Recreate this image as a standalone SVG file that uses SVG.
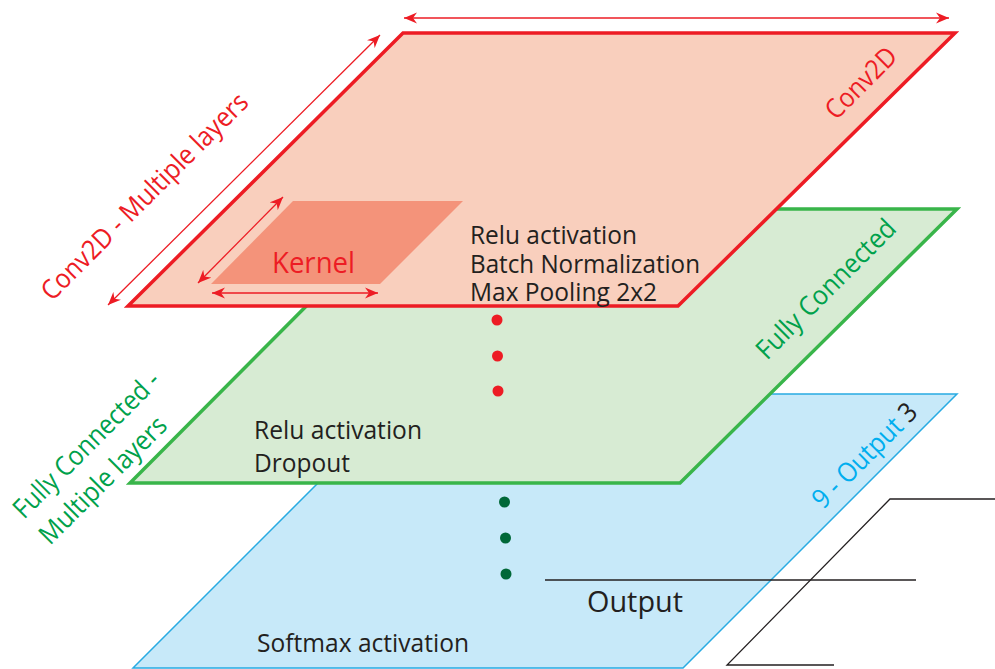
<svg xmlns="http://www.w3.org/2000/svg" width="995" height="669" viewBox="0 0 995 669">
  <style>
    .lbl { font-family: "Open Sans", "Liberation Sans", sans-serif; }
    .dark { fill: #231f20; font-size: 25px; }
    .red { fill: #ed1c24; font-size: 27px; }
    .green { fill: #00a14b; font-size: 27px; }
    .cyan { fill: #00aeef; font-size: 27px; }
    .dim { stroke: #ed1c24; stroke-width: 1.3; fill: none; marker-start: url(#tip); marker-end: url(#tip); }
    .guide { stroke: #231f20; stroke-width: 1.3; fill: none; }
  </style>
  <defs>
    <marker id="tip" viewBox="-13 -6 14 12" refX="0" refY="0" markerWidth="14" markerHeight="12" markerUnits="userSpaceOnUse" orient="auto-start-reverse">
      <path d="M0,0 L-13,-5.5 L-9,0 L-13,5.5 Z" fill="#ed1c24"/>
    </marker>
  </defs>
  <rect width="995" height="669" fill="#ffffff"/>

  <!-- output layer -->
  <g id="output-layer">
    <polygon points="407,394 957,394 683,668 133,668" fill="#c7e9f9" stroke="#29abe2" stroke-width="1.5"/>
    <text class="lbl dark" x="257" y="652" textLength="212" lengthAdjust="spacingAndGlyphs">Softmax activation</text>
    <text class="lbl dark" x="587" y="612" style="font-size:30px" textLength="96" lengthAdjust="spacingAndGlyphs">Output</text>
    <g transform="translate(823,510) rotate(-45)">
      <text class="lbl cyan" x="0" y="0" textLength="136" lengthAdjust="spacingAndGlyphs">9 - Output <tspan fill="#231f20">3</tspan></text>
    </g>
  </g>

  <!-- fully connected layer -->
  <g id="dense-layer">
    <polygon points="403,209 957,209 680,483 130,483" fill="#d7ebd3" stroke="#39b54a" stroke-width="3.5" stroke-linejoin="miter"/>
    <text class="lbl dark" x="254" y="439" textLength="168" lengthAdjust="spacingAndGlyphs">Relu activation</text>
    <text class="lbl dark" x="254" y="472" textLength="96" lengthAdjust="spacingAndGlyphs">Dropout</text>
    <g transform="translate(767,361) rotate(-45)">
      <text class="lbl green" x="0" y="0" textLength="185" lengthAdjust="spacingAndGlyphs">Fully Connected</text>
    </g>
  </g>

  <!-- convolution layer -->
  <g id="conv-layer">
    <polygon points="403,33 955,33 678,306 128,306" fill="#f9cfbd" stroke="#ed1c24" stroke-width="3.5" stroke-linejoin="miter"/>
    <text class="lbl dark" x="470" y="244" textLength="167" lengthAdjust="spacingAndGlyphs">Relu activation</text>
    <text class="lbl dark" x="470" y="273" textLength="230" lengthAdjust="spacingAndGlyphs">Batch Normalization</text>
    <text class="lbl dark" x="470" y="301" textLength="187" lengthAdjust="spacingAndGlyphs">Max Pooling 2x2</text>
    <g transform="translate(836,121) rotate(-45)">
      <text class="lbl red" x="0" y="0" textLength="89" lengthAdjust="spacingAndGlyphs">Conv2D</text>
    </g>
  </g>

  <!-- kernel window -->
  <g id="kernel">
    <polygon points="293,201 463,201 380,284 211,284" fill="#f4937a"/>
    <text class="lbl red" x="272" y="273" style="font-size:30px" textLength="83" lengthAdjust="spacingAndGlyphs">Kernel</text>
  </g>

  <!-- side labels -->
  <g id="conv-label" transform="translate(52,302) rotate(-45)">
    <text class="lbl red" x="0" y="0" textLength="280" lengthAdjust="spacingAndGlyphs">Conv2D - Multiple layers</text>
  </g>
  <g id="dense-label">
    <g transform="translate(24,520) rotate(-45)">
      <text class="lbl green" x="0" y="0" textLength="195" lengthAdjust="spacingAndGlyphs">Fully Connected -</text>
    </g>
    <g transform="translate(50,546) rotate(-45)">
      <text class="lbl green" x="0" y="0" textLength="168" lengthAdjust="spacingAndGlyphs">Multiple layers</text>
    </g>
  </g>

  <!-- dimension arrows and guide lines -->
  <g id="connectors">
    <line class="dim" x1="404" y1="18" x2="949" y2="18"/>
    <line class="dim" x1="108" y1="305" x2="380" y2="35"/>
    <line class="dim" x1="198" y1="283" x2="283" y2="197"/>
    <line class="dim" x1="212" y1="293" x2="378" y2="293"/>
    <line class="guide" x1="545" y1="580" x2="916" y2="580"/>
    <polyline class="guide" points="995,499 890,499 727,665 834,665"/>
  </g>

  <!-- ellipsis dots between layers -->
  <g id="dots">
    <circle cx="497" cy="320" r="5.5" fill="#ed1c24"/>
    <circle cx="497.5" cy="356" r="5.5" fill="#ed1c24"/>
    <circle cx="498" cy="391" r="5.5" fill="#ed1c24"/>
    <circle cx="504.5" cy="502" r="5.5" fill="#006838"/>
    <circle cx="505.5" cy="538" r="5.5" fill="#006838"/>
    <circle cx="506" cy="574" r="5.5" fill="#006838"/>
  </g>
</svg>
